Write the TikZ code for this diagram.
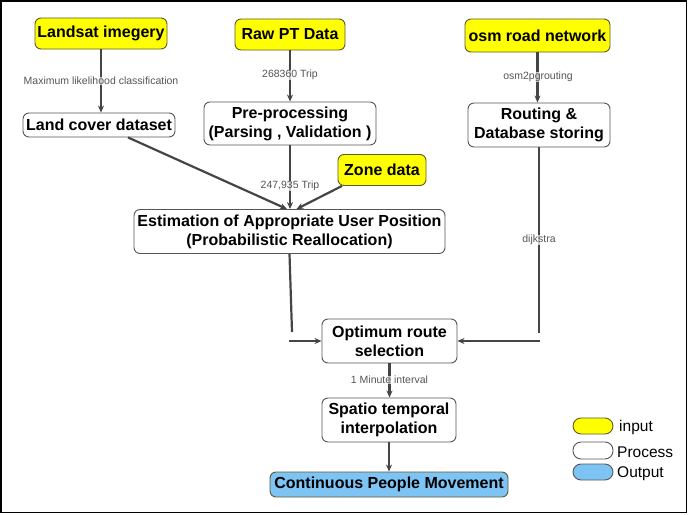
\documentclass[tikz,border=0pt]{standalone}
\usepackage{fontspec}
\setmainfont{Liberation Sans}
\usetikzlibrary{arrows.meta}
\definecolor{inyellow}{HTML}{FFFF00}
\definecolor{inborder}{HTML}{5E5A2A}
\definecolor{outblue}{HTML}{7DC4F5}
\definecolor{boxborder}{HTML}{555555}
\definecolor{linecol}{HTML}{454545}
\definecolor{labcol}{HTML}{555555}
\tikzset{
  box/.style={draw=boxborder, line width=0.9pt, rounded corners=6pt, fill=white,
    inner sep=0pt, align=center, font=\bfseries\fontsize{16}{19}\selectfont},
  inbox/.style={box, fill=inyellow, draw=inborder},
  outbox/.style={box, fill=outblue, draw=inborder},
  conn/.style={draw=linecol, line width=2.2pt},
  arr/.style={conn, -{Stealth[length=7pt,width=6pt]}},
  lab/.style={text=labcol, font=\fontsize{10.5}{12}\selectfont, fill=white, fill opacity=0.7, text opacity=1, inner sep=0.5pt},
  pill/.style={draw=boxborder, line width=0.9pt, rounded corners=8pt, minimum width=40pt, inner sep=0pt},
  legtext/.style={anchor=west, inner sep=0pt, font=\fontsize{15.5}{18}\selectfont}
}
\begin{document}
\begin{tikzpicture}[x=1pt,y=-1pt]
\useasboundingbox (0,0) rectangle (688,514);
\draw[line width=1.5pt] (0.75,0.75) rectangle (686.5,512.5);

\node[inbox, minimum width=132pt, minimum height=31pt] (landsat) at (101,33.5) {Landsat imegery};
\node[inbox, minimum width=110pt, minimum height=31pt] (rawpt) at (290,34.5) {Raw PT Data};
\node[inbox, minimum width=145pt, minimum height=33pt] (osm) at (537.5,35.5) {osm road network};
\node[box, minimum width=152pt, minimum height=24pt] (landcover) at (99,125) {Land cover dataset};
\node[box, minimum width=172pt, minimum height=43pt] (prep) at (290,123.5) {Pre-processing\\(Parsing , Validation )};
\node[box, minimum width=142pt, minimum height=44pt] (routing) at (539,125) {Routing \&\\Database storing};
\node[inbox, minimum width=88pt, minimum height=31pt] (zone) at (382,170) {Zone data};
\node[box, minimum width=311pt, minimum height=44pt] (est) at (289.5,231.5) {Estimation of Appropriate User Position\\(Probabilistic Reallocation)};
\node[box, minimum width=135pt, minimum height=44pt] (opt) at (389.5,341) {Optimum route\\selection};
\node[box, minimum width=134pt, minimum height=44pt] (spatio) at (389,420) {Spatio temporal\\interpolation};
\node[outbox, minimum width=238pt, minimum height=25pt] (cont) at (389,484.5) {Continuous People Movement};

\coordinate (e1) at (292,332);
\coordinate (e2) at (289,341);
\coordinate (r1) at (539,333);
\coordinate (r2) at (540,341);

\draw[arr] (landsat.south) -- (landsat.south |- landcover.north);
\draw[arr] (rawpt.south) -- (rawpt.south |- prep.north);
\draw[arr] (osm.south) -- (osm.south |- routing.north);
\draw[arr] (prep.south) -- (prep.south |- est.north);
\draw[arr] ([xshift=29pt]landcover.south) -- ([xshift=-2.5pt]est.north);
\draw[arr] ([xshift=-40pt]zone.south) -- ([xshift=7pt]est.north);
\draw[conn] (est.south) -- (e1);
\draw[arr] (e2) -- (opt.west);
\draw[conn] (routing.south) -- (r1);
\draw[arr] (r2) -- (opt.east);
\draw[arr] (opt.south) -- (opt.south |- spatio.north);
\draw[arr] (spatio.south) -- (spatio.south |- cont.north);

\node[lab] (l1) at (101,81) {Maximum likelihood classification};
\node[lab] (l2) at (290,75) {268360 Trip};
\node[lab] (l3) at (538,77) {osm2pgrouting};
\node[lab] (l4) at (290,186) {247,935 Trip};
\node[lab] (l5) at (539,240) {dijkstra};
\node[lab] (l6) at (389.5,380) {1 Minute interval};

\node[pill, fill=inyellow, draw=inborder, minimum height=16pt] (p1) at (593,426) {};
\node[pill, fill=white, minimum height=17pt] (p2) at (593,450.5) {};
\node[pill, fill=outblue, minimum height=16pt] (p3) at (593,472) {};
\node[legtext] (t1) at (619,427) {input};
\node[legtext] (t2) at (617,452.5) {Process};
\node[legtext] (t3) at (617,474) {Output};
\end{tikzpicture}
\end{document}
